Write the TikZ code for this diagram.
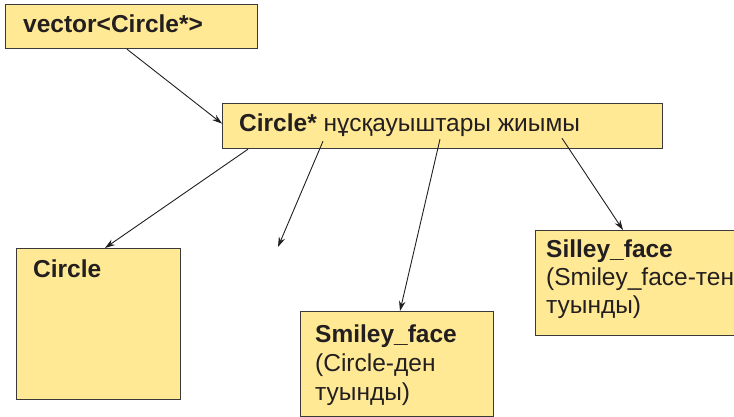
\documentclass[tikz,border=0pt]{standalone}
\usepackage{fontspec}
\setmainfont{Liberation Sans}
\usetikzlibrary{arrows.meta}
\definecolor{boxfill}{HTML}{FFE994}
\definecolor{boxline}{HTML}{3A3A3A}
\definecolor{ink}{HTML}{231F20}
\tikzset{
  box/.style={draw=boxline, line width=1.2pt, fill=boxfill, rectangle, inner sep=0pt, anchor=north west},
  lbl/.style={inner sep=0pt, anchor=base west, text=ink, font=\fontsize{24.5pt}{29pt}\selectfont},
  conn/.style={draw=ink, line width=0.9pt, -{Stealth[length=10pt,width=6.5pt]}}
}
\begin{document}
\begin{tikzpicture}[x=1pt,y=-1pt]
\useasboundingbox (0,0) rectangle (734,417);
% boxes
\node[box, minimum width=252pt, minimum height=44pt] (top) at (5,4) {};
\node[box, minimum width=440pt, minimum height=45pt] (ptr) at (222,103) {};
\node[box, minimum width=164pt, minimum height=151pt] (circ) at (16,248) {};
\node[box, minimum width=193pt, minimum height=105pt] (smiley) at (300,311) {};
\node[box, minimum width=210pt, minimum height=105pt] (silley) at (535,230) {};
% texts
\node[lbl] (t1) at (23,33) {\textbf{vector<Circle*>}};
\node[lbl] (t2) at (239,132) {\textbf{Circle*} нұсқауыштары жиымы};
\node[lbl] (t3) at (33,277) {\textbf{Circle}};
\node[lbl] (t4a) at (315,342) {\textbf{Smiley\_face}};
\node[lbl] (t4b) at (315,371) {(Circle-ден};
\node[lbl] (t4c) at (315,400) {туынды)};
\node[lbl] (t5a) at (546,257) {\textbf{Silley\_face}};
\node[lbl] (t5b) at (546,285) {(Smiley\_face-тен};
\node[lbl] (t5c) at (546,313) {туынды)};
% free end
\coordinate (free) at (278,247);
% connectors
\draw[conn] ([xshift=122pt]top.south west) -- ([yshift=2.5pt]ptr.west);
\draw[conn] ([xshift=26pt]ptr.south west) -- ([xshift=89pt]circ.north west);
\draw[conn] ([xshift=101pt,yshift=8pt]ptr.south west) -- (free);
\draw[conn] ([xshift=218pt,yshift=10pt]ptr.south west) -- ([xshift=100pt]smiley.north west);
\draw[conn] ([xshift=340pt,yshift=11pt]ptr.south west) -- ([xshift=88pt]silley.north west);
\end{tikzpicture}
\end{document}
